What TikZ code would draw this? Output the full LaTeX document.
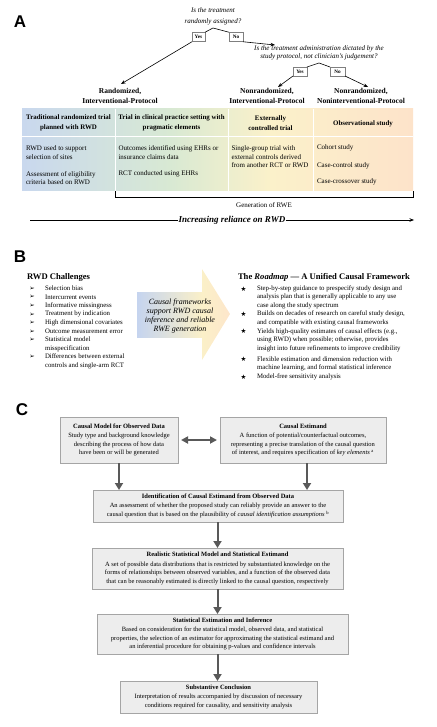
\documentclass[tikz,border=0pt]{standalone}
\usepackage{fontspec}
\setmainfont{Liberation Serif}
\newfontfamily\lsans{Liberation Sans}
\newfontfamily\symf{DejaVu Sans}
\usetikzlibrary{arrows.meta,calc}
\definecolor{cBlue}{HTML}{C9D8EE}
\definecolor{cGreen}{HTML}{D8E9D3}
\definecolor{cYellow}{HTML}{FBF1CA}
\definecolor{cPeach}{HTML}{FDE3CA}
\definecolor{aBlue}{HTML}{C5D4EF}
\definecolor{aYellow}{HTML}{FBF0C8}
\definecolor{aPeach}{HTML}{FDE6CB}
\definecolor{boxfill}{HTML}{EDEDED}
\definecolor{boxborder}{HTML}{A5A5A5}
\definecolor{arrgray}{HTML}{595959}
\definecolor{ynborder}{HTML}{7F7F7F}
\begin{document}
\begin{tikzpicture}[x=1pt,y=-1pt,
  every node/.style={inner sep=0pt, outer sep=0pt},
  lbl/.style={font=\lsans\bfseries\fontsize{17}{17}\selectfont},
  ques/.style={font=\itshape\fontsize{7}{8}\selectfont, align=center},
  yn/.style={draw=ynborder, line width=0.6pt, minimum height=9.5pt, font=\bfseries\fontsize{5.2}{6}\selectfont},
  cat/.style={font=\bfseries\fontsize{7.5}{10}\selectfont, align=center},
  th/.style={font=\bfseries\fontsize{6.9}{10}\selectfont, align=center},
  td/.style={font=\fontsize{7}{8.4}\selectfont, align=left, anchor=west},
  thinln/.style={line width=0.6pt},
  tarrow/.style={-{Stealth[length=4.5pt,width=3.5pt]}, line width=0.6pt},
  bl/.style={font=\fontsize{6.8}{8.6}\selectfont, align=left, anchor=west},
  bul/.style={font=\symf\fontsize{6.5}{7}\selectfont},
  cbox/.style={draw=boxborder, fill=boxfill, line width=0.8pt, align=center, font=\fontsize{6.5}{8.6}\selectfont},
  garrow/.style={-{Triangle[width=8pt,length=7pt]}, line width=2pt, draw=arrgray},
  gdarrow/.style={{Triangle[width=7pt,length=7pt]}-{Triangle[width=7pt,length=7pt]}, line width=2pt, draw=arrgray}
]
\useasboundingbox (0,0) rectangle (436,727);

% ---------------- A ----------------
\node[lbl] (labA) at (20,22) {A};
\node[ques, font=\itshape\fontsize{7}{10.7}\selectfont] (q1) at (213,16.5) {Is the treatment\\randomly assigned?};
\node[yn, minimum width=13pt] (yes1) at (198.5,37) {Yes};
\node[yn, minimum width=14pt] (no1) at (236,37) {No};
\coordinate (pk1) at (213,28);
\draw[thinln] (yes1.north east) -- (pk1) -- (no1.north west);
\coordinate (r1) at (121,84);
\draw[tarrow] (yes1.south west) -- (r1);
\coordinate (q2in) at (275,45);
\draw[tarrow] (no1.south east) -- (q2in);
\node[ques] (q2) at (319,53) {Is the treatment administration dictated by the\\study protocol, not clinician's judgement?};
\node[yn, minimum width=14pt, minimum height=9pt] (yes2) at (300,71.5) {Yes};
\node[yn, minimum width=15pt, minimum height=9pt] (no2) at (337.5,71.5) {No};
\coordinate (pk2) at (319,63);
\draw[thinln] (yes2.north east) -- (pk2) -- (no2.north west);
\coordinate (r2) at (278,87);
\coordinate (r3) at (368,87);
\draw[tarrow] (yes2.south west) -- (r2);
\draw[tarrow] (no2.south east) -- (r3);

\node[cat] (cr) at (120,96) {Randomized,\\Interventional-Protocol};
\node[cat] (cn1) at (267,96) {Nonrandomized,\\Interventional-Protocol};
\node[cat] (cn2) at (361,96) {Nonrandomized,\\Noninterventional-Protocol};

% table background
\shade[left color=cBlue, right color=cGreen] (22,109) rectangle (170.5,191);
\shade[left color=cGreen, right color=cYellow] (170,109) rectangle (270.5,191);
\shade[left color=cYellow, right color=cPeach] (270,109) rectangle (413,191);
\draw[white, line width=1pt] (22,137) -- (413,137);
\draw[white, line width=1pt] (115,109) -- (115,191);
\draw[white, line width=1pt] (228,109) -- (228,191);
\draw[white, line width=1pt] (313,109) -- (313,191);

\node[th] (h1) at (68.5,123) {Traditional randomized trial\\planned with RWD};
\node[th] (h2) at (171.5,123) {Trial in clinical practice setting with\\pragmatic elements};
\node[th] (h3) at (270.5,123) {Externally\\controlled trial};
\node[th] (h4) at (363,124) {Observational study};

\node[td] (b11) at (26,152.5) {RWD used to support\\selection of sites};
\node[td] (b12) at (26,178.3) {Assessment of eligibility\\criteria based on RWD};
\node[td] (b21) at (118.5,152.5) {Outcomes identified using EHRs or\\insurance claims data};
\node[td] (b22) at (118.5,174.3) {RCT conducted using EHRs};
\node[td] (b31) at (231.5,156.9) {Single-group trial with\\external controls derived\\from another RCT or RWD};
\node[td] (b41) at (317,148.3) {Cohort study};
\node[td] (b42) at (317,165.5) {Case-control study};
\node[td] (b43) at (317,182.3) {Case-crossover study};

\coordinate (brA) at (115,191.5);
\coordinate (brB) at (115,197.5);
\coordinate (brC) at (413,197.5);
\coordinate (brD) at (413,191.5);
\draw[thinln] (brA) -- (brB) -- (brC) -- (brD);
\node[font=\fontsize{7}{8}\selectfont] (gen) at (264,205) {Generation of RWE};

\coordinate (irs) at (30,220);
\coordinate (ire) at (414,220);
\node[font=\bfseries\itshape\fontsize{9}{10}\selectfont, fill=white, inner xsep=0.5pt, inner ysep=1pt] (inc) at (232,220) {Increasing reliance on RWD};
\draw[thinln] (irs) -- (inc.west);
\draw[tarrow] (inc.east) -- (ire);

% ---------------- B ----------------
\node[lbl] (labB) at (20,257) {B};
\node[anchor=west, font=\bfseries\fontsize{8.6}{10}\selectfont] (rwdt) at (27,277) {RWD Challenges};

\node[bul] (u1) at (32,288.5) {➢};
\node[bl] (c1) at (45,288.5) {Selection bias};
\node[bul] (u2) at (32,297) {➢};
\node[bl] (c2) at (45,297) {Intercurrent events};
\node[bul] (u3) at (32,305.7) {➢};
\node[bl] (c3) at (45,305.7) {Informative missingness};
\node[bul] (u4) at (32,314.3) {➢};
\node[bl] (c4) at (45,314.3) {Treatment by indication};
\node[bul] (u5) at (32,323) {➢};
\node[bl] (c5) at (45,323) {High dimensional covariates};
\node[bul] (u6) at (32,331.7) {➢};
\node[bl] (c6) at (45,331.7) {Outcome measurement error};
\node[bul] (u7) at (32,340.2) {➢};
\node[bl] (c7) at (45,344.5) {Statistical model\\misspecification};
\node[bul] (u8) at (32,357) {➢};
\node[bl] (c8) at (45,361.3) {Differences between external\\controls and single-arm RCT};

\shade[left color=aBlue, right color=aYellow] (137,292) rectangle (202.5,337);
\shade[left color=aYellow, right color=aPeach] (202,269) -- (230,314) -- (202,360) -- cycle;
\node[font=\itshape\fontsize{8}{9.3}\selectfont, align=center] (cf) at (180,316) {Causal frameworks\\support RWD causal\\inference and reliable\\RWE generation};

\node[anchor=west, font=\bfseries\fontsize{8.6}{10}\selectfont] (rmt) at (238,277) {The \textit{Roadmap} — A Unified Causal Framework};

\node[bul] (s1) at (243.5,288.7) {★};
\node[bl] (m1) at (257,297.2) {Step-by-step guidance to prespecify study design and\\analysis plan that is generally applicable to any use\\case along the study spectrum};
\node[bul] (s2) at (243.5,314) {★};
\node[bl] (m2) at (257,318.3) {Builds on decades of research on careful study design,\\and compatible with existing causal frameworks};
\node[bul] (s3) at (243.5,331) {★};
\node[bl] (m3) at (257,340) {Yields high-quality estimates of causal effects (e.g.,\\using RWD) when possible; otherwise, provides\\insight into future refinements to improve credibility};
\node[bul] (s4) at (243.5,359.5) {★};
\node[bl] (m4) at (257,363.8) {Flexible estimation and dimension reduction with\\machine learning, and formal statistical inference};
\node[bul] (s5) at (243.5,377) {★};
\node[bl] (m5) at (257,377) {Model-free sensitivity analysis};

% ---------------- C ----------------
\node[lbl] (labC) at (22,410) {C};

\node[cbox, minimum width=118pt, minimum height=46pt] (k1) at (119,440) {\textbf{Causal Model for Observed Data}\\[0.8pt]Study type and background knowledge\\describing the process of how data\\have been or will be generated};
\node[cbox, minimum width=166pt, minimum height=46pt] (k2) at (303,440) {\textbf{Causal Estimand}\\[0.8pt]A function of potential/counterfactual outcomes,\\representing a precise translation of the causal question\\of interest, and requires specification of \textit{key elements} \textsuperscript{a}};
\node[cbox, minimum width=250pt, minimum height=32pt] (k3) at (218,506) {\textbf{Identification of Causal Estimand from Observed Data}\\[0.8pt]An assessment of whether the proposed study can reliably provide an answer to the\\causal question that is based on the plausibility of \textit{causal identification assumptions} \textsuperscript{b}};
\node[cbox, minimum width=251pt, minimum height=41pt] (k4) at (217.5,568.5) {\textbf{Realistic Statistical Model and Statistical Estimand}\\[0.8pt]A set of possible data distributions that is restricted by substantiated knowledge on the\\forms of relationships between observed variables, and a function of the observed data\\that can be reasonably estimated is directly linked to the causal question, respectively};
\node[cbox, minimum width=251pt, minimum height=40pt] (k5) at (222.5,634) {\textbf{Statistical Estimation and Inference}\\[0.8pt]Based on consideration for the statistical model, observed data, and statistical\\properties, the selection of an estimator for approximating the statistical estimand and\\an inferential procedure for obtaining p-values and confidence intervals};
\node[cbox, minimum width=197pt, minimum height=32pt] (k6) at (218.5,697) {\textbf{Substantive Conclusion}\\[0.8pt]Interpretation of results accompanied by discussion of necessary\\conditions required for causality, and sensitivity analysis};

\draw[gdarrow, shorten <=3pt, shorten >=3pt] (k1.east) -- (k2.west);
\draw[garrow] (k1.south) -- (k1.south |- k3.north);
\draw[garrow] ([xshift=4pt]k2.south) -- ([xshift=4pt]k2.south |- k3.north);
\draw[garrow] (k4.north |- k3.south) -- (k4.north);
\draw[garrow] (k4.south) -- (k4.south |- k5.north);
\draw[garrow] (k4.south |- k5.south) -- (k4.south |- k6.north);
\end{tikzpicture}
\end{document}
